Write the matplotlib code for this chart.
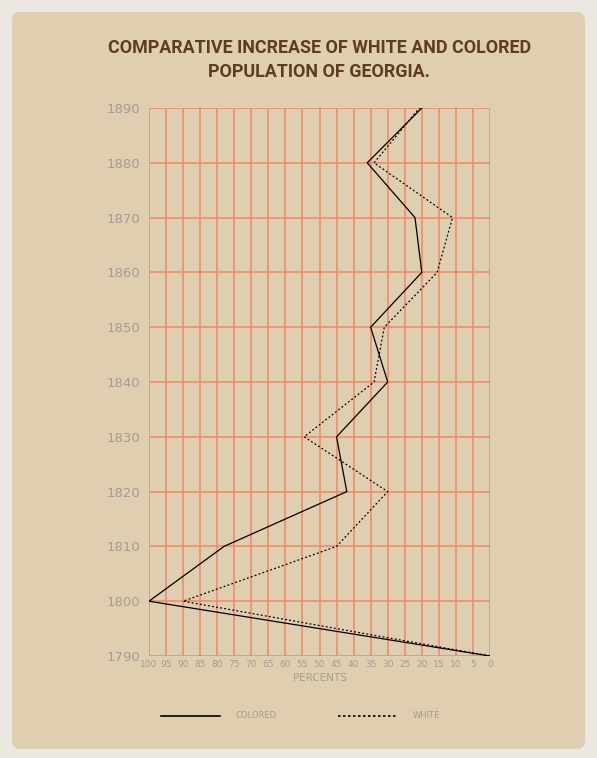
import numpy as np
import matplotlib.pyplot as plt
from matplotlib.patches import FancyBboxPatch

years = [1790, 1800, 1810, 1820, 1830, 1840, 1850, 1860, 1870, 1880, 1890]
colored = [0, 100, 78, 42, 45, 30, 35, 20, 22, 36, 20]
white = [0, 90, 45, 30, 54.5, 34, 31, 15.5, 11, 34, 20.7]
x_ticks = list(range(100, -1, -5))

paper = "#e0ceb1"
grid_col = "#f2856a"
label_col = "#a39d95"
title_col = "#5e3d1e"

fig = plt.figure(figsize=(5.97, 7.58), dpi=100, facecolor="#ebe8e2")

# paper sheet
sheet = FancyBboxPatch((0.02, 0.012), 0.96, 0.972,
                       boxstyle="round,pad=0,rounding_size=0.012",
                       transform=fig.transFigure, facecolor=paper,
                       edgecolor="none", zorder=-10)
fig.patches.append(sheet)

fig.text(0.535, 0.921, "COMPARATIVE INCREASE OF WHITE AND COLORED\nPOPULATION OF GEORGIA.",
         ha="center", va="center", fontsize=12.9, fontweight="bold",
         family=["Roboto", "DejaVu Sans"],
         color=title_col, linespacing=1.42)

ax = fig.add_axes([149 / 597, 1 - 656 / 758, 341 / 597, 548 / 758])
ax.set_facecolor("none")
ax.set_xlim(100, 0)
ax.set_ylim(1790, 1890)

for x in x_ticks:
    ax.axvline(x, color=grid_col, lw=1.1, zorder=1)
for y in years:
    ax.axhline(y, color=grid_col, lw=1.1, zorder=1)

ax.plot(colored, years, color="black", lw=0.9, zorder=3)
ax.plot(white, years, color="black", lw=0.9, ls=(0, (1.5, 1.8)), zorder=3)

for s in ax.spines.values():
    s.set_visible(False)
ax.set_xticks(x_ticks)
ax.set_xticklabels([str(x) for x in x_ticks], fontsize=6.5, color=label_col)
ax.set_yticks(years)
ax.set_yticklabels([str(y) for y in years], fontsize=9.5, color=label_col)
ax.tick_params(length=0, pad=3)
ax.tick_params(axis="y", pad=6)
ax.set_xlabel("PERCENTS", fontsize=7.5, color=label_col, labelpad=3)

# legend
lax = fig.add_axes([0, 0, 1, 1], facecolor="none")
lax.set_xlim(0, 597)
lax.set_ylim(758, 0)
lax.axis("off")
lax.plot([161, 220], [716, 716], color="black", lw=1.2)
lax.text(235, 716, "COLORED", fontsize=6, color=label_col, va="center")
lax.plot([338, 397], [716, 716], color="black", lw=1.2, ls=(0, (1.5, 1.5)))
lax.text(413, 716, "WHITE", fontsize=6, color=label_col, va="center")

fig.savefig("out.png", dpi=100, facecolor=fig.get_facecolor())
